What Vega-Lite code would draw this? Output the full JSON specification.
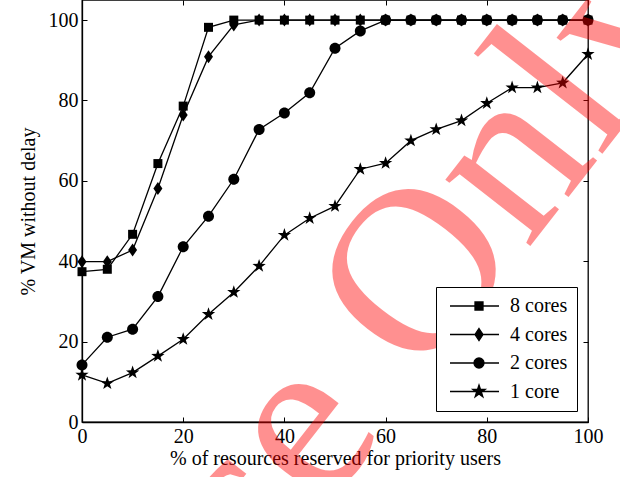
{
  "$schema": "https://vega.github.io/schema/vega-lite/v6.json",
  "width": 506,
  "height": 422,
  "autosize": {"type": "none"},
  "padding": {"left": 82, "top": 0, "right": 32, "bottom": 55},
  "background": "white",
  "config": {
    "font": "Liberation Serif",
    "view": {"stroke": "black", "strokeWidth": 1.3},
    "axis": {
      "labelFont": "Liberation Serif",
      "labelFontSize": 20,
      "labelColor": "black",
      "labelFlush": false,
      "titleFont": "Liberation Serif",
      "titleFontSize": 20,
      "titleFontWeight": "normal",
      "titleColor": "black",
      "domainColor": "black",
      "domainWidth": 1.3,
      "tickColor": "black",
      "tickWidth": 1,
      "tickSize": -5,
      "grid": false
    }
  },
  "data": {
    "values": [
      {"x": 0, "y": 37.4, "series": "8 cores"},
      {"x": 5, "y": 38, "series": "8 cores"},
      {"x": 10, "y": 46.7, "series": "8 cores"},
      {"x": 15, "y": 64.3, "series": "8 cores"},
      {"x": 20, "y": 78.6, "series": "8 cores"},
      {"x": 25, "y": 98.2, "series": "8 cores"},
      {"x": 30, "y": 100, "series": "8 cores"},
      {"x": 35, "y": 100, "series": "8 cores"},
      {"x": 40, "y": 100, "series": "8 cores"},
      {"x": 45, "y": 100, "series": "8 cores"},
      {"x": 50, "y": 100, "series": "8 cores"},
      {"x": 55, "y": 100, "series": "8 cores"},
      {"x": 60, "y": 100, "series": "8 cores"},
      {"x": 65, "y": 100, "series": "8 cores"},
      {"x": 70, "y": 100, "series": "8 cores"},
      {"x": 75, "y": 100, "series": "8 cores"},
      {"x": 80, "y": 100, "series": "8 cores"},
      {"x": 85, "y": 100, "series": "8 cores"},
      {"x": 90, "y": 100, "series": "8 cores"},
      {"x": 95, "y": 100, "series": "8 cores"},
      {"x": 100, "y": 100, "series": "8 cores"},
      {"x": 0, "y": 39.9, "series": "4 cores"},
      {"x": 5, "y": 39.9, "series": "4 cores"},
      {"x": 10, "y": 42.8, "series": "4 cores"},
      {"x": 15, "y": 58.1, "series": "4 cores"},
      {"x": 20, "y": 76.4, "series": "4 cores"},
      {"x": 25, "y": 90.9, "series": "4 cores"},
      {"x": 30, "y": 98.8, "series": "4 cores"},
      {"x": 35, "y": 100, "series": "4 cores"},
      {"x": 40, "y": 100, "series": "4 cores"},
      {"x": 45, "y": 100, "series": "4 cores"},
      {"x": 50, "y": 100, "series": "4 cores"},
      {"x": 55, "y": 100, "series": "4 cores"},
      {"x": 60, "y": 100, "series": "4 cores"},
      {"x": 65, "y": 100, "series": "4 cores"},
      {"x": 70, "y": 100, "series": "4 cores"},
      {"x": 75, "y": 100, "series": "4 cores"},
      {"x": 80, "y": 100, "series": "4 cores"},
      {"x": 85, "y": 100, "series": "4 cores"},
      {"x": 90, "y": 100, "series": "4 cores"},
      {"x": 95, "y": 100, "series": "4 cores"},
      {"x": 100, "y": 100, "series": "4 cores"},
      {"x": 0, "y": 14.2, "series": "2 cores"},
      {"x": 5, "y": 21.1, "series": "2 cores"},
      {"x": 10, "y": 23.1, "series": "2 cores"},
      {"x": 15, "y": 31.2, "series": "2 cores"},
      {"x": 20, "y": 43.6, "series": "2 cores"},
      {"x": 25, "y": 51.2, "series": "2 cores"},
      {"x": 30, "y": 60.4, "series": "2 cores"},
      {"x": 35, "y": 72.8, "series": "2 cores"},
      {"x": 40, "y": 76.9, "series": "2 cores"},
      {"x": 45, "y": 81.9, "series": "2 cores"},
      {"x": 50, "y": 93, "series": "2 cores"},
      {"x": 55, "y": 97.3, "series": "2 cores"},
      {"x": 60, "y": 100, "series": "2 cores"},
      {"x": 65, "y": 100, "series": "2 cores"},
      {"x": 70, "y": 100, "series": "2 cores"},
      {"x": 75, "y": 100, "series": "2 cores"},
      {"x": 80, "y": 100, "series": "2 cores"},
      {"x": 85, "y": 100, "series": "2 cores"},
      {"x": 90, "y": 100, "series": "2 cores"},
      {"x": 95, "y": 100, "series": "2 cores"},
      {"x": 100, "y": 100, "series": "2 cores"},
      {"x": 0, "y": 11.7, "series": "1 core"},
      {"x": 5, "y": 9.6, "series": "1 core"},
      {"x": 10, "y": 12.3, "series": "1 core"},
      {"x": 15, "y": 16.4, "series": "1 core"},
      {"x": 20, "y": 20.6, "series": "1 core"},
      {"x": 25, "y": 26.8, "series": "1 core"},
      {"x": 30, "y": 32.3, "series": "1 core"},
      {"x": 35, "y": 38.8, "series": "1 core"},
      {"x": 40, "y": 46.5, "series": "1 core"},
      {"x": 45, "y": 50.7, "series": "1 core"},
      {"x": 50, "y": 53.7, "series": "1 core"},
      {"x": 55, "y": 62.9, "series": "1 core"},
      {"x": 60, "y": 64.4, "series": "1 core"},
      {"x": 65, "y": 70, "series": "1 core"},
      {"x": 70, "y": 72.8, "series": "1 core"},
      {"x": 75, "y": 75, "series": "1 core"},
      {"x": 80, "y": 79.3, "series": "1 core"},
      {"x": 85, "y": 83.2, "series": "1 core"},
      {"x": 90, "y": 83.2, "series": "1 core"},
      {"x": 95, "y": 84.4, "series": "1 core"},
      {"x": 100, "y": 91.5, "series": "1 core"}
    ]
  },
  "layer": [
    {
      "mark": {"type": "line", "strokeWidth": 1.3},
      "encoding": {
        "x": {"field": "x", "type": "quantitative", "scale": {"domain": [0, 100], "nice": false},
              "axis": {"orient": "bottom", "values": [0, 20, 40, 60, 80, 100], "title": "% of resources reserved for priority users", "labelPadding": 9, "titlePadding": 2}},
        "y": {"field": "y", "type": "quantitative", "scale": {"domain": [0, 105], "nice": false},
              "axis": {"orient": "left", "values": [0, 20, 40, 60, 80, 100], "title": "% VM without delay", "labelPadding": 9, "titlePadding": 10}},
        "color": {
          "field": "series",
          "type": "nominal",
          "scale": {"domain": ["8 cores", "4 cores", "2 cores", "1 core"], "range": ["black", "black", "black", "black"]},
          "legend": {
            "title": null,
            "orient": "bottom-right",
            "offset": 11,
            "padding": 9,
            "strokeColor": "black",
            "fillColor": "white",
            "symbolSize": 100,
            "symbolStrokeWidth": 1.3,
            "symbolOpacity": 1,
            "labelOffset": 45,
            "labelFont": "Liberation Serif",
            "labelFontSize": 20,
            "labelColor": "black",
            "labelLimit": 200,
            "rowPadding": 8.5,
            "encode": {
              "symbols": {
                "update": {
                  "shape": {"signal": "datum.value === '8 cores' ? 'M-1,0H8.8M4,-0.8H5.6V0.8H4Z' : datum.value === '4 cores' ? 'M-1,0H8.8M4.8,-1.2L5.6,0L4.8,1.2L4,0Z' : datum.value === '2 cores' ? 'M-1,0H8.8M3.8,0A1,1 0 1,0 5.8,0A1,1 0 1,0 3.8,0Z' : 'M-1,0H8.8M4.8,-1.3L5.1,-0.41L6.04,-0.4L5.29,0.16L5.57,1.05L4.8,0.51L4.03,1.05L4.31,0.16L3.56,-0.4L4.5,-0.41Z'"},
                  "strokeWidth": {"value": 1.3},
                  "fill": {"value": "black"}
                }
              }
            }
          }
        }
      }
    },
    {
      "mark": {"type": "point", "filled": true, "color": "black", "opacity": 1, "size": 100},
      "encoding": {
        "x": {"field": "x", "type": "quantitative", "scale": {"domain": [0, 100], "nice": false},
              "axis": {"orient": "top", "values": [0, 20, 40, 60, 80, 100], "labels": false, "title": null, "domain": false}},
        "y": {"field": "y", "type": "quantitative", "scale": {"domain": [0, 105], "nice": false},
              "axis": {"orient": "right", "values": [0, 20, 40, 60, 80, 100], "labels": false, "title": null, "domain": false}},
        "shape": {
          "field": "series",
          "type": "nominal",
          "scale": {
            "domain": ["1 core", "2 cores", "4 cores", "8 cores"],
            "range": [
              "M0,-1.4L0.323,-0.445L1.331,-0.433L0.523,0.17L0.823,1.133L0,0.55L-0.823,1.133L-0.523,0.17L-1.331,-0.433L-0.323,-0.445Z",
              "M-1.1,0A1.1,1.1 0 1,0 1.1,0A1.1,1.1 0 1,0 -1.1,0Z",
              "M0,-1.3L0.9,0L0,1.3L-0.9,0Z",
              "M-0.9,-0.9H0.9V0.9H-0.9Z"
            ]
          },
          "legend": null
        }
      }
    },
    {
      "data": {"values": [{"wx": 15.7, "wy": -73.7, "t": "Use Only"}]},
      "mark": {"type": "text", "font": "Liberation Serif", "fontSize": 235, "angle": -52, "align": "left", "baseline": "alphabetic", "color": "red", "opacity": 0.43},
      "encoding": {
        "x": {"field": "wx", "type": "quantitative", "scale": {"domain": [0, 100], "nice": false}, "axis": null},
        "y": {"field": "wy", "type": "quantitative", "scale": {"domain": [0, 105], "nice": false}, "axis": null},
        "text": {"field": "t"}
      }
    }
  ],
  "resolve": {"axis": {"x": "independent", "y": "independent"}}
}
